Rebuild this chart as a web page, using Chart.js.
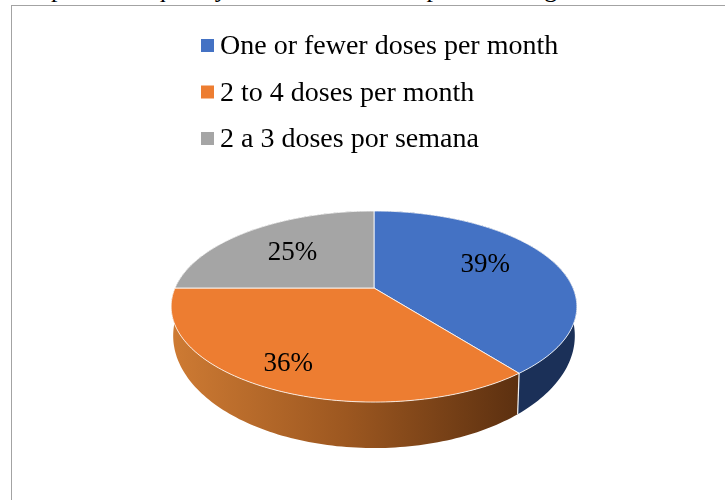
<!DOCTYPE html>
<html>
<head>
<meta charset="utf-8">
<script src="https://cdn.jsdelivr.net/npm/chart.js@4"></script>
<style>
  html, body { margin: 0; background: #fff; overflow: hidden; }
  #caption { position: absolute; left: 12px; top: -26px; font: 26px 'Liberation Serif', serif; white-space: nowrap; color: #000; }
  #frame { position: absolute; left: 11px; top: 5px; width: 720px; height: 500px; border: 1px solid #a3a3a3; box-sizing: border-box; }
  #wrap { position: absolute; left: 0; top: 0; width: 725px; height: 500px; }
</style>
</head>
<body>
<div id="caption">Graph 5 - Frequency of alcohol consumption among the interviewees</div>
<div id="frame"></div>
<div id="wrap"><canvas id="pie" width="725" height="500"></canvas></div>
<script>
const categories = ['One or fewer doses per month', '2 to 4 doses per month', '2 a 3 doses por semana'];
const shares = [39.4, 35.6, 25];
const faceColors = ['#4472c4', '#ed7d31', '#a5a5a5'];

const LABEL_FONT = "27px 'Liberation Serif', serif";
const LEGEND_FONT = "28px 'Liberation Serif', serif";
const FLATTEN = 0.462;   // height/width of the tilted disc
const PERSPECTIVE = 0.194; // near edge looks bigger than far edge
// lower rim of the wall is a second, slightly different disc
const LOW_DROP = 26;
const LOW_WIDTH = 0.99;
const LOW_HEIGHT = 0.543;
const LABEL_RADIUS = [0.62, 0.8, 0.63];
const LABEL_NUDGE = [[-1, -5], [-5, -1], [0, 3]];

// unit disc -> screen, so the apex sits above the ellipse centre like the 3D original
function project(arc, angle, f = 1) {
  const u = Math.cos(angle) * f;
  const v = Math.sin(angle) * f;
  const w = 1 - PERSPECTIVE * v;
  return {
    x: arc.x + arc.outerRadius * u / w,
    y: arc.y + arc.outerRadius * FLATTEN * v / w,
  };
}

function projectLow(arc, angle) {
  const w = 1 - PERSPECTIVE * Math.sin(angle);
  return {
    x: arc.x + arc.outerRadius * LOW_WIDTH * Math.cos(angle) / w,
    y: arc.y + LOW_DROP + arc.outerRadius * LOW_HEIGHT * Math.sin(angle) / w,
  };
}

function trace(ctx, arc, from, to, fn) {
  const steps = Math.max(2, Math.ceil(Math.abs(to - from) / 0.02));
  for (let i = 0; i <= steps; i++) {
    const p = fn(arc, from + (to - from) * i / steps);
    ctx.lineTo(p.x, p.y);
  }
}

const pie3d = {
  id: 'pie3d',
  beforeDatasetDraw(chart, args) {
    const { ctx } = chart;
    const arcs = args.meta.data;
    const first = arcs[0];

    const orangeWall = ctx.createLinearGradient(first.x - 199, 0, first.x + 145, 0);
    orangeWall.addColorStop(0, '#cd7a33');
    orangeWall.addColorStop(0.5, '#9c5720');
    orangeWall.addColorStop(1, '#5c3010');
    const wallColors = ['#1b3058', orangeWall, '#6b6b6b'];

    ctx.save();
    arcs.forEach((arc, i) => {
      ctx.beginPath();
      trace(ctx, arc, arc.startAngle, arc.endAngle, project);
      trace(ctx, arc, arc.endAngle, arc.startAngle, projectLow);
      ctx.closePath();
      ctx.fillStyle = wallColors[i];
      ctx.fill();
    });

    // pale seam where two walls meet at the front
    const seamTop = project(first, first.endAngle);
    const seamLow = projectLow(first, first.endAngle);
    ctx.strokeStyle = '#f2f2f2';
    ctx.lineWidth = 1.2;
    ctx.beginPath();
    ctx.moveTo(seamTop.x, seamTop.y);
    ctx.lineTo(seamLow.x, seamLow.y);
    ctx.stroke();

    arcs.forEach((arc, i) => {
      ctx.beginPath();
      ctx.moveTo(arc.x, arc.y);
      trace(ctx, arc, arc.startAngle, arc.endAngle, project);
      ctx.closePath();
      ctx.fillStyle = faceColors[i];
      ctx.fill();
      ctx.strokeStyle = 'rgba(255,255,255,0.8)';
      ctx.lineWidth = 1;
      ctx.stroke();
    });

    ctx.fillStyle = '#000';
    ctx.font = LABEL_FONT;
    ctx.textAlign = 'center';
    ctx.textBaseline = 'middle';
    arcs.forEach((arc, i) => {
      const mid = (arc.startAngle + arc.endAngle) / 2;
      const p = project(arc, mid, LABEL_RADIUS[i]);
      ctx.fillText(Math.round(shares[i]) + '%', p.x + LABEL_NUDGE[i][0], p.y + LABEL_NUDGE[i][1]);
    });
    ctx.restore();
    return false;
  },
  afterDraw(chart) {
    // stacked legend, chart.js would put a wider gap between box and text
    const { ctx } = chart;
    ctx.save();
    ctx.font = LEGEND_FONT;
    ctx.textBaseline = 'middle';
    ctx.textAlign = 'left';
    chart.data.labels.forEach((label, i) => {
      const y = 46 + i * 46.5;
      ctx.fillStyle = faceColors[i];
      ctx.fillRect(201, y - 7, 13, 13);
      ctx.fillStyle = '#000';
      ctx.fillText(label, 220, y + 1);
    });
    ctx.restore();
  },
};

new Chart(document.getElementById('pie'), {
  type: 'pie',
  data: {
    labels: categories,
    datasets: [{
      data: shares,
      backgroundColor: faceColors,
      borderWidth: 0,
    }],
  },
  options: {
    responsive: false,
    animation: false,
    layout: { padding: { left: 175, right: 152, top: 89, bottom: 13 } },
    plugins: { legend: { display: false }, tooltip: { enabled: false } },
  },
  plugins: [pie3d],
});
</script>
</body>
</html>
